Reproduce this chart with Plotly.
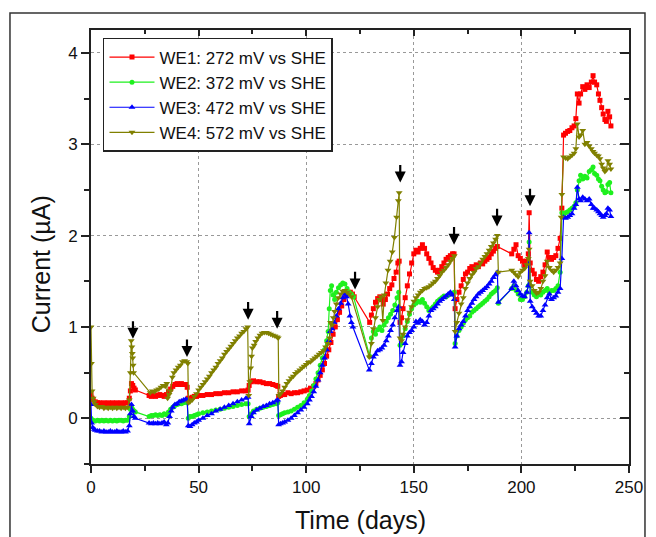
import plotly.graph_objects as go

# ---------------- data ----------------
we1_days = [0, 0.5, 1, 2, 3, 4, 5, 6, 7, 8, 9, 10, 11, 12, 13, 14, 15, 16, 17, 17.8, 18.3, 18.8, 19.4, 20, 20.6,
            27, 28, 29, 30, 31, 32, 33, 34, 35, 36, 37, 38, 39, 40, 41, 42, 43, 44, 44.7, 45.2, 46, 47, 48, 49, 50,
            52, 54, 56, 58, 60, 62, 64, 66, 68, 70, 72, 73, 73.5, 74.5, 75.5, 77, 78.5, 80, 81.5, 83, 84.5, 86, 86.8,
            87.2, 88, 89, 90, 91.5, 93, 94.5, 96, 97.5, 99, 100.5, 102, 103.5, 104.5, 105.5, 106.5, 107.5, 108.5,
            109.5, 110.5, 111.5, 112.5, 113.5, 114.5, 115.5, 116.5, 117.5, 118.5, 119.5, 120.5, 121.5, 122.3,
            129.5, 130.3, 131.2, 132.2, 133.2, 134.2, 135, 135.8, 136.8, 137.8, 138.8, 139.8, 140.8, 141.8, 142.6,
            143.2, 143.6, 144.3, 145, 146, 147, 148, 149, 150, 151, 152, 153, 154, 155, 156, 157, 158, 159, 160,
            161, 162, 163, 164, 165, 166, 167, 168, 168.7, 169.2, 170, 171, 172, 173, 174, 175, 176, 177, 178, 179,
            180, 181, 182, 183, 184, 185, 186, 187, 188, 188.8, 195.5, 196.5, 197.5, 198.5, 199.5, 200.5, 201.5,
            202.5, 203.2, 203.6, 204.1, 205, 206, 207, 208, 209, 210, 211, 212, 213, 214, 215, 216, 217, 218,
            218.8, 219.6, 220.5, 221.5, 222.5, 223.5, 224.5, 225.3, 226, 226.8, 227.5, 228.5, 229.5, 230.5, 231.5,
            232.5, 233.3, 234, 235, 235.8, 236.5, 237.3, 238, 238.8, 239.5, 240.2, 241, 241.6]
we1_vals = [0.26, 0.22, 0.2, 0.18, 0.17, 0.17, 0.16, 0.17, 0.16, 0.17, 0.16, 0.17, 0.16, 0.17, 0.16, 0.17, 0.16,
            0.17, 0.17, 0.22, 0.3, 0.38, 0.36, 0.33, 0.31,
            0.25, 0.24, 0.25, 0.24, 0.25, 0.26, 0.25, 0.24, 0.26, 0.29, 0.32, 0.35, 0.37, 0.38, 0.37, 0.38, 0.37,
            0.37, 0.34, 0.22, 0.21, 0.23, 0.24, 0.24, 0.25,
            0.25, 0.26, 0.26, 0.27, 0.27, 0.28, 0.28, 0.29, 0.29, 0.3, 0.3, 0.31, 0.36, 0.4, 0.41, 0.4, 0.4, 0.39,
            0.38, 0.38, 0.37, 0.36, 0.35,
            0.24, 0.25, 0.26, 0.26, 0.28, 0.27, 0.28, 0.28, 0.29, 0.3, 0.31, 0.33, 0.35, 0.38, 0.42, 0.47, 0.53, 0.6,
            0.68, 0.75, 0.83, 0.92, 1.0, 1.08, 1.16, 1.23, 1.3, 1.35, 1.38, 1.38, 1.36, 1.33,
            1.05, 1.13, 1.2, 1.27, 1.31, 1.33, 1.3, 1.25, 1.3, 1.36, 1.42, 1.46, 1.53, 1.6, 1.7,
            1.72, 1.05, 1.1, 1.2, 1.32, 1.45, 1.58, 1.7, 1.8, 1.84, 1.82, 1.86, 1.9, 1.86, 1.8, 1.75, 1.7, 1.65, 1.62,
            1.6, 1.62, 1.66, 1.7, 1.74, 1.76, 1.78, 1.8, 1.8, 1.2, 1.3, 1.38, 1.45, 1.52, 1.58, 1.6, 1.64, 1.66, 1.64,
            1.68, 1.66, 1.7, 1.69, 1.72, 1.74, 1.76, 1.8, 1.83, 1.86, 1.88, 1.8, 1.85, 1.9, 1.78, 1.75, 1.72, 1.68,
            1.72, 1.8, 2.25, 1.7, 1.62, 1.58, 1.52, 1.5, 1.55, 1.6, 1.68, 1.82, 1.76, 1.74, 1.76, 1.78, 1.86, 1.97,
            2.3, 3.1, 3.12, 3.14, 3.15, 3.18, 3.2, 3.28, 3.55, 3.45, 3.55, 3.63, 3.6, 3.65, 3.62,
            3.68, 3.75, 3.68, 3.65, 3.55, 3.48, 3.4, 3.33, 3.27, 3.25, 3.36, 3.3, 3.2]

we2_days = [0, 0.5, 1, 2, 3, 4, 5, 6, 7, 8, 9, 10, 11, 12, 13, 14, 15, 16, 17, 17.8, 18.3, 18.8, 19.4, 20, 20.6,
            27, 28, 29, 30, 31, 32, 33, 34, 35, 36, 37, 38, 39, 40, 41, 42, 43, 44, 44.7, 45.2, 46, 47, 48, 49, 50,
            52, 54, 56, 58, 60, 62, 64, 66, 68, 70, 72, 73, 73.5, 74.5, 75.5, 77, 78.5, 80, 81.5, 83, 84.5, 86, 86.8,
            87.2, 88, 89, 90, 91.5, 93, 94.5, 96, 97.5, 99, 100.5, 101.5, 102.5, 103.5, 104.5, 105.5, 106.5, 107.5,
            108.5, 109.5, 110.2, 110.7, 111.2, 111.8, 112.5, 113.2, 114, 115, 116, 117, 118, 119, 120, 121, 122,
            129.5, 130.3, 131.2, 132.2, 133.2, 134.2, 135.2, 136.2, 137.2, 138.2, 139.2, 140.2, 141.2, 142.2, 143,
            143.6, 144.3, 145, 146, 147, 148, 149, 150, 151, 152, 153, 154, 155, 156, 157, 158, 159, 160, 161, 162,
            163, 164, 165, 166, 167, 168, 168.8, 169.2, 170, 171, 172, 173, 174, 175, 176, 177, 178, 179, 180, 181,
            182, 183, 184, 185, 186, 187, 188, 188.8, 189.3, 195.5, 196.5, 197.5, 198.5, 199.5, 200.5, 201.5, 202.5,
            203.2, 203.6, 204.1, 205, 206, 207, 208, 209, 210, 211, 212, 213, 214, 215, 216, 217, 218, 218.8, 219.6,
            220.5, 221.5, 222.5, 223.5, 224.5, 225.3, 226, 226.8, 227.5, 228.5, 229.5, 230.5, 231.5, 232.5, 233.3,
            234, 235, 235.8, 236.5, 237.3, 238, 238.8, 239.5, 240.2, 241, 241.6]
we2_vals = [0.0, -0.02, -0.02, -0.03, -0.02, -0.03, -0.02, -0.03, -0.02, -0.03, -0.02, -0.03, -0.02, -0.03, -0.02,
            -0.02, -0.03, -0.02, -0.02, 0.02, 0.1, 0.13, 0.1, 0.08, 0.07,
            0.02, 0.03, 0.03, 0.04, 0.03, 0.04, 0.03, 0.05, 0.04, 0.07, 0.1, 0.12, 0.14, 0.15, 0.16, 0.16, 0.17, 0.18,
            0.17, 0.0, 0.02, 0.02, 0.03, 0.04, 0.05,
            0.06, 0.07, 0.08, 0.09, 0.1, 0.11, 0.12, 0.13, 0.14, 0.15, 0.16, 0.16, 0.02, 0.05, 0.08, 0.1, 0.11, 0.12,
            0.13, 0.14, 0.15, 0.16, 0.17,
            0.03, 0.04, 0.05, 0.06, 0.07, 0.08, 0.1, 0.12, 0.14, 0.17, 0.21, 0.25, 0.3, 0.36, 0.43, 0.5, 0.58, 0.66,
            0.75, 0.85, 0.95, 1.2, 1.4, 1.45, 1.35, 1.3, 1.38, 1.43, 1.46, 1.48, 1.47, 1.42, 1.38, 1.36, 1.33,
            0.68, 0.88, 0.95, 0.92, 0.97, 1.0, 0.96, 1.02, 1.06, 1.1, 1.14, 1.18, 1.24, 1.32, 1.38,
            0.8, 0.82, 0.9, 0.98, 1.06, 1.14, 1.2, 1.24, 1.26, 1.28, 1.27, 1.3, 1.26, 1.22, 1.18, 1.2, 1.22, 1.25,
            1.28, 1.3, 1.32, 1.34, 1.33, 1.35, 1.36, 1.37, 1.38, 0.82, 0.9, 0.96, 1.0, 1.04, 1.08, 1.1, 1.12, 1.16,
            1.18, 1.2, 1.22, 1.24, 1.26, 1.28, 1.3, 1.33, 1.36, 1.38, 1.4, 1.43, 1.26, 1.42, 1.45, 1.4, 1.36, 1.3,
            1.3, 1.33, 1.38, 1.45, 1.93, 1.45, 1.38, 1.35, 1.33, 1.36, 1.35, 1.38, 1.4, 1.42, 1.38, 1.4, 1.4, 1.42,
            1.45, 1.6, 2.25, 2.22, 2.25, 2.26, 2.28, 2.3, 2.32, 2.36, 2.5, 2.6, 2.66, 2.62, 2.65, 2.63, 2.7, 2.72,
            2.75, 2.68, 2.66, 2.62, 2.6, 2.54, 2.5, 2.47, 2.48, 2.56, 2.58, 2.47]

we3_days = [0, 0.3, 0.8, 1.5, 2, 3, 4, 5, 6, 7, 8, 9, 10, 11, 12, 13, 14, 15, 16, 17, 17.8, 18.3, 18.8, 19.4, 20,
            20.6, 27, 28, 29, 30, 31, 32, 33, 34, 35, 35.7, 36.5, 37.3, 38, 39, 40, 41, 42, 43, 44, 44.7, 45.2, 46,
            47, 48, 49, 50, 52, 54, 56, 58, 60, 62, 64, 66, 68, 70, 72, 73, 73.5, 74.5, 75.5, 77, 78.5, 80, 81.5, 83,
            84.5, 86, 86.8, 87.2, 88, 89, 90, 91.5, 93, 94.5, 96, 97.5, 99, 100.5, 101.5, 102.5, 103.5, 104.5, 105.5,
            106.5, 107.5, 108.5, 109.5, 110.5, 111.2, 112, 113, 114, 115, 116, 117, 118, 118.8, 119.5, 120.3, 121,
            121.7, 129.3, 130.3, 131.2, 132.2, 133.2, 134.2, 135.2, 136.2, 137.2, 138.2, 139.2, 140.2, 141.2, 142.2,
            143, 143.6, 144.3, 145, 146, 147, 148, 149, 150, 151, 152, 153, 154, 155, 156, 157, 158, 159, 160, 161,
            162, 163, 164, 165, 166, 167, 168, 168.8, 169.2, 170, 171, 172, 173, 174, 175, 176, 177, 178, 179, 180,
            181, 182, 183, 184, 185, 186, 187, 188, 188.8, 189.3, 195.5, 196.5, 197.5, 198.5, 199.5, 200.5, 201.5,
            202.5, 203.2, 203.6, 204.1, 205, 206, 207, 208, 209, 210, 211, 212, 213, 214, 215, 216, 217, 218, 218.8,
            219.6, 220.5, 221.5, 222.5, 223.5, 224.5, 225.3, 226, 226.8, 227.5, 228.5, 229.5, 230.5, 231.5, 232.5,
            233.3, 234, 235, 235.8, 236.5, 237.3, 238, 238.8, 239.5, 240.2, 241, 241.6]
we3_vals = [0.15, -0.05, -0.1, -0.12, -0.13, -0.14, -0.14, -0.15, -0.14, -0.15, -0.15, -0.14, -0.15, -0.15, -0.14,
            -0.15, -0.15, -0.14, -0.15, -0.14, -0.08, 0.05, 0.15, 0.08, 0.02,
            0.0, -0.05, -0.06, -0.05, -0.06, -0.05, -0.06, -0.05, -0.04, -0.07, -0.05, 0.02, 0.08, 0.12, 0.15, 0.16,
            0.18, 0.19, 0.2, 0.21, 0.2, -0.08, -0.09,
            -0.07, -0.05, -0.04, -0.02, 0.0, 0.03, 0.05, 0.08, 0.1, 0.12, 0.14, 0.16, 0.18, 0.2, 0.22, 0.23, -0.06,
            0.02, 0.06, 0.09, 0.11, 0.13, 0.14, 0.16,
            0.17, 0.19, 0.2, -0.07, -0.06, -0.05, -0.04, -0.02, 0.0, 0.03, 0.06, 0.09, 0.12, 0.16, 0.2, 0.24, 0.29,
            0.35, 0.42,
            0.5, 0.58, 0.66, 0.75, 0.85, 0.95, 0.98, 1.05, 1.12, 1.2, 1.26, 1.32, 1.36, 1.33, 1.25, 1.12, 1.05,
            1.0, 0.53, 0.6, 0.67, 0.7, 0.74, 0.75, 0.77, 0.8, 0.85, 0.9, 0.96, 1.02, 1.1, 1.18,
            1.22, 0.58, 0.62, 0.72, 0.82, 0.9, 0.94, 0.96, 1.0, 1.06, 1.04, 1.08, 1.06, 1.02, 1.05, 1.12, 1.18, 1.2,
            1.22, 1.25,
            1.28, 1.3, 1.32, 1.34, 1.36, 1.38, 1.35, 1.3, 0.78, 0.9, 0.98, 1.02, 1.06, 1.12, 1.18, 1.22, 1.26, 1.3,
            1.33, 1.36,
            1.38, 1.4, 1.42, 1.44, 1.47, 1.5, 1.54, 1.57, 1.6, 1.27, 1.42, 1.5, 1.45, 1.4, 1.36, 1.34, 1.33,
            1.38, 1.45, 2.03, 1.28, 1.22, 1.18, 1.15, 1.12, 1.12, 1.18, 1.24, 1.32, 1.36, 1.3, 1.32, 1.34, 1.38, 1.42,
            1.75,
            2.2, 2.19, 2.2, 2.22, 2.24, 2.3, 2.34, 2.53, 2.4, 2.38, 2.42, 2.4, 2.38, 2.4, 2.34,
            2.3, 2.3, 2.28, 2.26, 2.24, 2.22, 2.2, 2.22, 2.24, 2.3, 2.28, 2.21]

we4_days = [0, 0.2, 0.5, 1, 1.5, 2, 3, 4, 5, 6, 7, 8, 9, 10, 11, 12, 13, 14, 15, 16, 17, 17.8, 18.3, 18.7, 19,
            19.2, 19.4, 19.6, 19.8, 27.5, 28.5, 29.5, 30.5, 31.5, 32.5, 33.5, 34.5, 35.2, 35.6, 36.3, 37, 37.8, 38.5,
            39.5, 40.5, 41.5, 42.5, 43.5, 44.5, 45, 45.3, 46, 47, 48, 49, 50, 51, 52, 53, 54, 55, 56, 57, 58, 59, 60,
            61, 62, 63, 64, 65, 66, 67, 68, 69, 70, 71, 72, 72.8, 73.3, 73.8, 74.2, 74.6, 75, 75.8, 76.5, 77.5, 78.5,
            79.5, 80.5, 81.5, 82.5, 83.5, 84.5, 85.5, 86.5, 87, 87.3, 88, 89, 90, 91, 92, 93, 94, 95, 96, 97, 98, 99,
            100, 101, 102, 103, 104, 105, 106, 107, 108, 109, 110, 110.8, 111.3, 112, 112.6, 113.2, 114, 115, 116,
            117, 118, 119, 120, 121, 129.3, 130.3, 131.2, 132.2, 133.2, 134, 134.8, 135.6, 136.3, 137, 138, 139, 140,
            141, 142, 142.8, 143.2, 143.6, 144.3, 145, 146, 147, 148, 149, 150, 151, 152, 153, 154, 155, 156, 157,
            158, 159, 160, 161, 162, 163, 164, 165, 166, 167, 168, 168.8, 169.2, 170, 171, 172, 173, 174, 175, 176,
            177, 178, 179, 180, 181, 182, 183, 184, 185, 186, 187, 188, 188.8, 189.3, 195.5, 196.5, 197.5, 198.5,
            199.5, 200.5, 201.5, 202.5, 203.2, 203.6, 204.1, 205, 206, 207, 208, 209, 210, 211, 212, 213, 214, 215,
            216, 217, 218, 218.5, 218.8, 219.6, 220.5, 221.5, 222.5, 223.5, 224.5, 225.3, 226, 226.8, 227.5, 228.5,
            229.5, 230.5, 231.5, 232.5, 233.3, 234, 235, 235.8, 236.5, 237.3, 238, 238.8, 239.5, 240.2, 241, 241.6]
we4_vals = [1.0, 0.6, 0.3, 0.22, 0.18, 0.15, 0.13, 0.12, 0.13, 0.11, 0.12, 0.11, 0.12, 0.11, 0.12, 0.11, 0.12, 0.11,
            0.12, 0.11, 0.12, 0.2, 0.5, 0.85, 0.78,
            0.71, 0.66, 0.58, 0.5, 0.28, 0.3, 0.29, 0.31, 0.32, 0.34, 0.36, 0.35, 0.38, 0.22, 0.26, 0.3, 0.45, 0.5,
            0.53, 0.56, 0.58, 0.62, 0.63, 0.62, 0.6, 0.17, 0.18, 0.2, 0.24, 0.27, 0.31, 0.34, 0.37, 0.4, 0.43, 0.46,
            0.5, 0.53, 0.56, 0.6, 0.63,
            0.66, 0.7, 0.73, 0.76, 0.79, 0.82, 0.85, 0.88, 0.9, 0.93, 0.95, 0.98, 1.0, 0.25, 0.4, 0.55, 0.68, 0.77,
            0.8, 0.84, 0.88, 0.91,
            0.93, 0.94, 0.94, 0.93, 0.92, 0.91, 0.9, 0.89, 0.88, 0.25, 0.27, 0.3, 0.34, 0.38, 0.41, 0.44, 0.46, 0.49,
            0.51, 0.53, 0.55, 0.57,
            0.59, 0.61, 0.62, 0.64, 0.66, 0.68, 0.7, 0.72, 0.74, 0.78, 0.82, 0.88, 1.05, 1.02, 1.1, 1.17, 1.25, 1.32,
            1.36,
            1.39, 1.4, 1.38, 1.36, 1.33, 0.67, 0.82, 0.98, 1.1, 1.22, 1.3, 1.33, 1.07, 1.35, 1.48, 1.62, 1.72, 1.82,
            1.98, 2.2, 2.38, 2.47, 0.88, 0.85, 0.92, 1.0, 1.08, 1.16, 1.22, 1.28, 1.32, 1.35, 1.38, 1.4, 1.42, 1.43,
            1.44,
            1.46, 1.48, 1.5, 1.53, 1.56, 1.6, 1.62, 1.65, 1.68, 1.72, 1.75, 1.78, 0.95, 1.05, 1.15, 1.25, 1.32, 1.42,
            1.48, 1.53,
            1.57, 1.6, 1.64, 1.66, 1.7, 1.74, 1.77, 1.8, 1.84, 1.88, 1.92, 1.96, 2.0, 1.6, 1.62, 1.6, 1.57, 1.55,
            1.6, 1.62, 1.64, 1.68, 1.75, 1.85, 1.5, 1.45, 1.4, 1.37, 1.38, 1.42, 1.5, 1.56, 1.72, 1.65, 1.62, 1.6,
            1.62, 1.65, 1.7, 2.2, 2.45, 2.86, 2.85, 2.84, 2.86, 2.88, 2.9, 2.95, 3.22, 3.08, 3.1, 3.15,
            3.0, 3.02, 2.98, 2.95, 2.92, 2.9, 2.88, 2.87, 2.84, 2.78, 2.74, 2.7, 2.72, 2.82, 2.78, 2.73]

series_names = ["WE1: 272 mV vs SHE", "WE2: 372 mV vs SHE", "WE3: 472 mV vs SHE", "WE4: 572 mV vs SHE"]

# arrows: day, tip value, tail value
arrow_days = [19.5, 44.6, 73.0, 86.5, 122.7, 143.7, 168.7, 188.7, 204.0]
arrow_tips = [0.87, 0.67, 1.08, 0.98, 1.41, 2.58, 1.90, 2.10, 2.32]
arrow_tails = [1.08, 0.88, 1.29, 1.19, 1.62, 2.79, 2.11, 2.31, 2.53]

x_ticks = [0, 50, 100, 150, 200, 250]
y_ticks = [0, 1, 2, 3, 4]

# ---------------- figure ----------------
colors = ["#FF0000", "#1EF01E", "#0000FF", "#808000"]
symbols = ["square", "circle", "triangle-up", "triangle-down"]
msizes = [5, 5, 6, 6]

fig = go.Figure()
all_days = [we1_days, we2_days, we3_days, we4_days]
all_vals = [we1_vals, we2_vals, we3_vals, we4_vals]
for d, v, name, c, s, ms in zip(all_days, all_vals, series_names, colors, symbols, msizes):
    fig.add_trace(go.Scatter(x=d, y=v, name=name, mode="lines+markers",
                             line=dict(color=c, width=1.2),
                             marker=dict(color=c, symbol=s, size=ms, line=dict(width=0))))

# helper trace for the mirrored (top/right) axes
fig.add_trace(go.Scatter(x=[None], y=[None], xaxis="x2", yaxis="y2", showlegend=False, hoverinfo="skip"))

for d, tip, tail in zip(arrow_days, arrow_tips, arrow_tails):
    fig.add_annotation(x=d, y=tip, ax=d, ay=tail, xref="x", yref="y", axref="x", ayref="y",
                       text="", showarrow=True, arrowhead=2, arrowsize=1.0, arrowwidth=2.2,
                       arrowcolor="black", standoff=0)

font_family = "Liberation Sans, Arial, Helvetica, sans-serif"
axis_common = dict(showline=True, linecolor="#222", linewidth=2, zeroline=False, automargin=False,
                   tickfont=dict(size=17, color="#111", family=font_family),
                   tickcolor="#222", tickwidth=1.5)

fig.update_layout(
    width=656, height=537,
    margin=dict(l=91, r=27, t=30, b=73),
    paper_bgcolor="white", plot_bgcolor="white",
    font=dict(family=font_family, color="#111"),
    showlegend=True,
    legend=dict(x=0.0223, y=0.9816, xanchor="left", yanchor="top",
                bgcolor="white", bordercolor="#222", borderwidth=1.5,
                font=dict(size=17, family=font_family, color="#111"),
                itemwidth=45, tracegroupgap=0),
    xaxis=dict(range=[0, 250], tickvals=x_ticks, ticks="outside", ticklen=7,
               showgrid=True, gridcolor="#999", griddash="dot", gridwidth=1,
               minor=dict(dtick=25, tick0=0, ticks="outside", ticklen=5, tickcolor="#222", tickwidth=1.5,
                          showgrid=False),
               **axis_common),
    yaxis=dict(range=[-0.5, 4.25], tickvals=y_ticks, ticks="outside", ticklen=8,
               showgrid=True, gridcolor="#999", griddash="dot", gridwidth=1,
               minor=dict(dtick=0.5, tick0=0, ticks="outside", ticklen=5, tickcolor="#222", tickwidth=1.5,
                          showgrid=False),
               **axis_common),
    xaxis2=dict(overlaying="x", side="top", anchor="y", range=[0, 250], tickvals=x_ticks,
                ticks="inside", ticklen=6, showticklabels=False, showgrid=False,
                minor=dict(dtick=25, tick0=0, ticks="inside", ticklen=4, tickcolor="#222", tickwidth=1.5),
                **axis_common),
    yaxis2=dict(overlaying="y", side="right", anchor="x", range=[-0.5, 4.25], tickvals=y_ticks,
                ticks="inside", ticklen=9, showticklabels=False, showgrid=False,
                minor=dict(dtick=0.5, tick0=0, ticks="inside", ticklen=5, tickcolor="#222", tickwidth=1.5),
                **axis_common),
)

fig.add_annotation(text="Current (\u00b5A)", xref="paper", yref="paper", x=-0.093, y=0.46,
                   xanchor="center", yanchor="middle",
                   textangle=-90, showarrow=False, font=dict(size=25, family=font_family, color="#111"))
fig.add_annotation(text="Time (days)", xref="paper", yref="paper", x=0.5, y=-0.129,
                   xanchor="center", yanchor="middle",
                   showarrow=False, font=dict(size=25, family=font_family, color="#111"))

# outer frame of the figure panel
fig.add_shape(type="rect", xref="paper", yref="paper", x0=-0.1506, y0=1.0392, x1=1.0297, y1=-0.2,
              line=dict(color="#333", width=1.5), fillcolor="rgba(0,0,0,0)", layer="below")

fig.write_html("out.html", config={"displayModeBar": False},
               post_script="document.body.style.margin='0px';")
